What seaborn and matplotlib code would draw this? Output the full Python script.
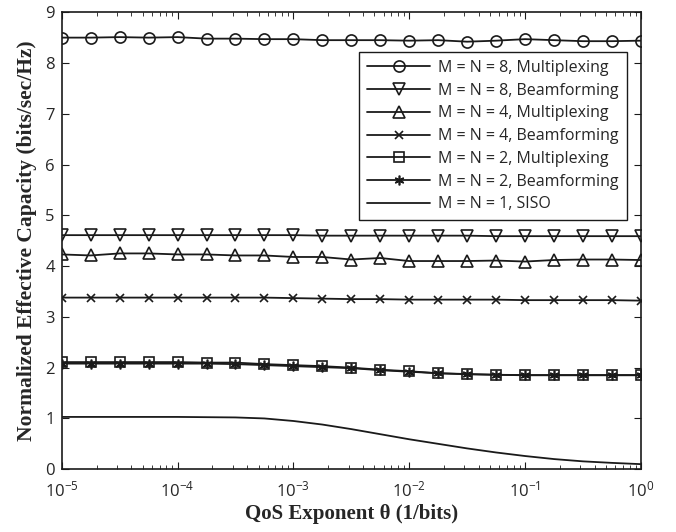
import numpy as np
import pandas as pd
import matplotlib
matplotlib.use("Agg")
import matplotlib.pyplot as plt
import seaborn as sns

# ---- data ----
log_theta = [-5, -4.75, -4.5, -4.25, -4, -3.75, -3.5, -3.25, -3, -2.75, -2.5,
             -2.25, -2, -1.75, -1.5, -1.25, -1, -0.75, -0.5, -0.25, 0]
theta = [10.0 ** e for e in log_theta]

labels = ["M = N = 8, Multiplexing", "M = N = 8, Beamforming",
          "M = N = 4, Multiplexing", "M = N = 4, Beamforming",
          "M = N = 2, Multiplexing", "M = N = 2, Beamforming",
          "M = N = 1, SISO"]

mn8_mux = [8.50, 8.50, 8.51, 8.50, 8.51, 8.48, 8.48, 8.47, 8.47, 8.45, 8.45,
           8.45, 8.44, 8.45, 8.42, 8.44, 8.47, 8.45, 8.43, 8.43, 8.44]
mn8_bf = [4.61, 4.61, 4.61, 4.61, 4.61, 4.61, 4.61, 4.61, 4.61, 4.60, 4.60,
          4.60, 4.60, 4.60, 4.60, 4.59, 4.59, 4.59, 4.59, 4.59, 4.59]
mn4_mux = [4.23, 4.21, 4.25, 4.25, 4.23, 4.23, 4.21, 4.21, 4.18, 4.18, 4.13,
           4.16, 4.10, 4.10, 4.10, 4.11, 4.09, 4.12, 4.13, 4.13, 4.12]
mn4_bf = [3.38, 3.38, 3.38, 3.38, 3.38, 3.38, 3.38, 3.38, 3.37, 3.36, 3.35,
          3.35, 3.34, 3.34, 3.34, 3.34, 3.33, 3.33, 3.33, 3.33, 3.32]
mn2_mux = [2.11, 2.11, 2.11, 2.11, 2.11, 2.10, 2.10, 2.07, 2.05, 2.03, 2.00,
           1.96, 1.93, 1.89, 1.875, 1.86, 1.855, 1.855, 1.855, 1.855, 1.855]
mn2_bf = [2.08, 2.08, 2.08, 2.08, 2.08, 2.08, 2.07, 2.05, 2.03, 2.01, 1.99,
          1.95, 1.92, 1.89, 1.87, 1.86, 1.85, 1.85, 1.85, 1.85, 1.85]
siso = [1.03, 1.03, 1.03, 1.03, 1.03, 1.025, 1.02, 1.00, 0.95, 0.88, 0.79,
        0.69, 0.59, 0.50, 0.41, 0.33, 0.26, 0.20, 0.155, 0.125, 0.10]

series = [mn8_mux, mn8_bf, mn4_mux, mn4_bf, mn2_mux, mn2_bf, siso]

# ---- style ----
sns.set_style("ticks")
plt.rcParams["font.family"] = ["Open Sans", "DejaVu Sans"]
plt.rcParams["mathtext.fontset"] = "custom"
plt.rcParams["mathtext.rm"] = "Open Sans"
plt.rcParams["mathtext.it"] = "Open Sans:italic"
plt.rcParams["mathtext.bf"] = "Open Sans:bold"

markers = ["o", "v", "^", "x", "s", (6, 2, 0), None]
msizes = [8, 8, 8, 6, 7, 7, 0]
color = "#1a1a1a"

fig, ax = plt.subplots(figsize=(6.76, 5.32), dpi=100)
fig.subplots_adjust(left=0.0913, right=0.948, bottom=0.118, top=0.977)

for lab, vals, mk, ms in zip(labels, series, markers, msizes):
    df = pd.DataFrame({"theta": theta, "cap": vals})
    kw = dict(x="theta", y="cap", data=df, ax=ax, color=color, lw=1.3,
              label=lab, estimator=None)
    if mk is not None:
        kw.update(marker=mk, markersize=ms, mfc="none", mec=color, mew=1.2)
    sns.lineplot(**kw)

ax.set_xscale("log")
ax.set_xlim(1e-5, 1)
ax.set_ylim(0, 9)
ax.set_yticks(range(0, 10))
ax.set_xticks([1e-5, 1e-4, 1e-3, 1e-2, 1e-1, 1])

for s in ax.spines.values():
    s.set_visible(True)
    s.set_linewidth(1.2)
    s.set_color(color)
ax.tick_params(which="both", direction="in", top=True, right=True,
               labelsize=12, color=color)
ax.tick_params(which="major", length=5)
ax.tick_params(which="minor", length=3)
ax.tick_params(axis="x", pad=8)
ax.tick_params(axis="y", pad=5)

ax.set_xlabel("QoS Exponent θ (1/bits)", fontfamily="Liberation Serif",
              fontweight="bold", fontsize=15, labelpad=3)
ax.set_ylabel("Normalized Effective Capacity (bits/sec/Hz)",
              fontfamily="Liberation Serif", fontweight="bold", fontsize=15.5,
              labelpad=6)

leg = ax.legend(loc="upper right", bbox_to_anchor=(0.976, 0.913),
                borderaxespad=0.0,
                fontsize=11.5, frameon=True, fancybox=False, framealpha=1,
                edgecolor=color, handlelength=4.0, labelspacing=0.42,
                borderpad=0.5, handletextpad=0.5)
leg.get_frame().set_linewidth(1.0)

fig.savefig("out.png", dpi=100)
